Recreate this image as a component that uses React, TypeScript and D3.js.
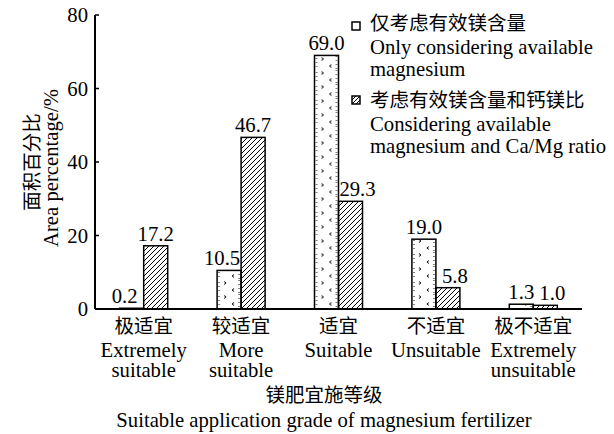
import React from "react";
import * as d3 from "d3";

const categoriesZh = ["极适宜", "较适宜", "适宜", "不适宜", "极不适宜"];
const categoriesEn1 = ["Extremely", "More", "Suitable", "Unsuitable", "Extremely"];
const categoriesEn2 = ["suitable", "suitable", "", "", "unsuitable"];
const onlyMg = [0.2, 10.5, 69.0, 19.0, 1.3];
const mgAndRatio = [17.2, 46.7, 29.3, 5.8, 1.0];
const yTicks = [0, 20, 40, 60, 80];
const seriesZh = ["仅考虑有效镁含量", "考虑有效镁含量和钙镁比"];
const seriesEn1 = ["Only considering available", "Considering available"];
const seriesEn2 = ["magnesium", "magnesium and Ca/Mg ratio"];

const W = 614;
const H = 434;
const left = 95;
const right = 582;
const top = 15;
const bottom = 309;
const serif = "'Liberation Serif', 'Times New Roman', serif";
const cjk = "'Noto Sans CJK SC', sans-serif";
const FS = 20.7;
const CFS = 19.5;

export default function App() {
  const x = d3.scaleBand<number>().domain(d3.range(categoriesZh.length)).range([left, right]).padding(0);
  const y = d3.scaleLinear().domain([0, 80]).range([bottom, top]);
  const bw = 24;

  const bars: { s: number; i: number; v: number; other: number; x: number }[] = [];
  categoriesZh.forEach((_, i) => {
    const c = (x(i) as number) + x.bandwidth() / 2;
    bars.push({ s: 0, i, v: onlyMg[i], other: mgAndRatio[i], x: c - bw });
    bars.push({ s: 1, i, v: mgAndRatio[i], other: onlyMg[i], x: c });
  });

  return (
    <svg width={W} height={H} style={{ position: "absolute", left: 0, top: 0, background: "#fff" }}>
      <defs>
        <pattern id="hatch" patternUnits="userSpaceOnUse" width={5} height={5}>
          <path d="M-1,6 L6,-1 M-1,1 L1,-1 M4,6 L6,4" stroke="#000" strokeWidth={1} />
        </pattern>
        <pattern id="hatchS" patternUnits="userSpaceOnUse" width={4} height={4}>
          <path d="M-1,5 L5,-1" stroke="#000" strokeWidth={1} />
        </pattern>
        {bars.filter(b => b.s === 0).map(b => (
          <pattern key={b.i} id={`dots${b.i}`} patternUnits="userSpaceOnUse" x={b.x} y={0} width={24} height={14}>
            <path d="M7,1.5 L9,3 L7,4.5" stroke="#000" strokeWidth={1} fill="none" />
            <path d="M17,8.5 L15,10 L17,11.5" stroke="#000" strokeWidth={1} fill="none" />
            <rect x={1.5} y={2} width={1} height={1} fill="#000" />
            <rect x={1.5} y={6} width={1} height={1} fill="#000" />
            <rect x={1.5} y={10} width={1} height={1} fill="#000" />
            <rect x={21.5} y={0} width={1} height={1} fill="#000" />
            <rect x={21.5} y={4} width={1} height={1} fill="#000" />
            <rect x={21.5} y={8} width={1} height={1} fill="#000" />
            <rect x={21.5} y={12} width={1} height={1} fill="#000" />
          </pattern>
        ))}
      </defs>

      {/* bars */}
      {bars.map(b => (
        <rect
          key={`${b.s}-${b.i}`}
          x={b.x}
          y={y(b.v)}
          width={bw}
          height={bottom - y(b.v)}
          fill={b.s === 0 ? `url(#dots${b.i})` : "url(#hatch)"}
          stroke="#000"
          strokeWidth={1.5}
        />
      ))}
      {bars.map(b => {
        const shift = b.other > b.v ? (b.s === 0 ? -7 : 7) : 0;
        return (
          <text
            key={`l${b.s}-${b.i}`}
            x={b.x + bw / 2 + shift}
            y={y(b.v) - 5}
            textAnchor="middle"
            fontFamily={serif}
            fontSize={FS}
          >
            {b.v.toFixed(1)}
          </text>
        );
      })}

      {/* axes */}
      <line x1={left} x2={left} y1={top} y2={bottom} stroke="#000" strokeWidth={2} />
      <line x1={left} x2={right} y1={bottom} y2={bottom} stroke="#000" strokeWidth={2} />
      {yTicks.map(t => (
        <g key={t}>
          <line x1={left} x2={left + 4} y1={y(t)} y2={y(t)} stroke="#000" strokeWidth={1.5} />
          <text x={left - 7} y={y(t) + 7} textAnchor="end" fontFamily={serif} fontSize={FS}>
            {t}
          </text>
        </g>
      ))}

      {/* category labels */}
      {categoriesZh.map((c, i) => {
        const cx = (x(i) as number) + x.bandwidth() / 2;
        return (
          <g key={c}>
            <text x={cx} y={333} textAnchor="middle" fontFamily={cjk} fontSize={CFS}>{c}</text>
            <text x={cx} y={357} textAnchor="middle" fontFamily={serif} fontSize={FS}>{categoriesEn1[i]}</text>
            <text x={cx} y={377} textAnchor="middle" fontFamily={serif} fontSize={FS}>{categoriesEn2[i]}</text>
          </g>
        );
      })}

      {/* axis titles */}
      <text x={324} y={402} textAnchor="middle" fontFamily={cjk} fontSize={CFS}>镁肥宜施等级</text>
      <text x={324} y={427} textAnchor="middle" fontFamily={serif} fontSize={FS}>Suitable application grade of magnesium fertilizer</text>
      <text transform="translate(39,162) rotate(-90)" textAnchor="middle" fontFamily={cjk} fontSize={CFS}>面积百分比</text>
      <text transform="translate(58,168) rotate(-90)" textAnchor="middle" fontFamily={serif} fontSize={FS}>Area percentage/%</text>

      {/* legend */}
      {[0, 1].map(s => {
        const by = s === 0 ? 22 : 96;
        const base = s === 0 ? 29.5 : 107;
        return (
          <g key={s}>
            <rect x={352} y={by} width={8} height={8} fill={s === 0 ? "#fff" : "url(#hatchS)"} stroke="#000" strokeWidth={1.5} />
            <text x={370} y={base} fontFamily={cjk} fontSize={CFS}>{seriesZh[s]}</text>
            <text x={370} y={base + 24} fontFamily={serif} fontSize={FS}>{seriesEn1[s]}</text>
            <text x={370} y={base + 46} fontFamily={serif} fontSize={FS}>{seriesEn2[s]}</text>
          </g>
        );
      })}
    </svg>
  );
}
